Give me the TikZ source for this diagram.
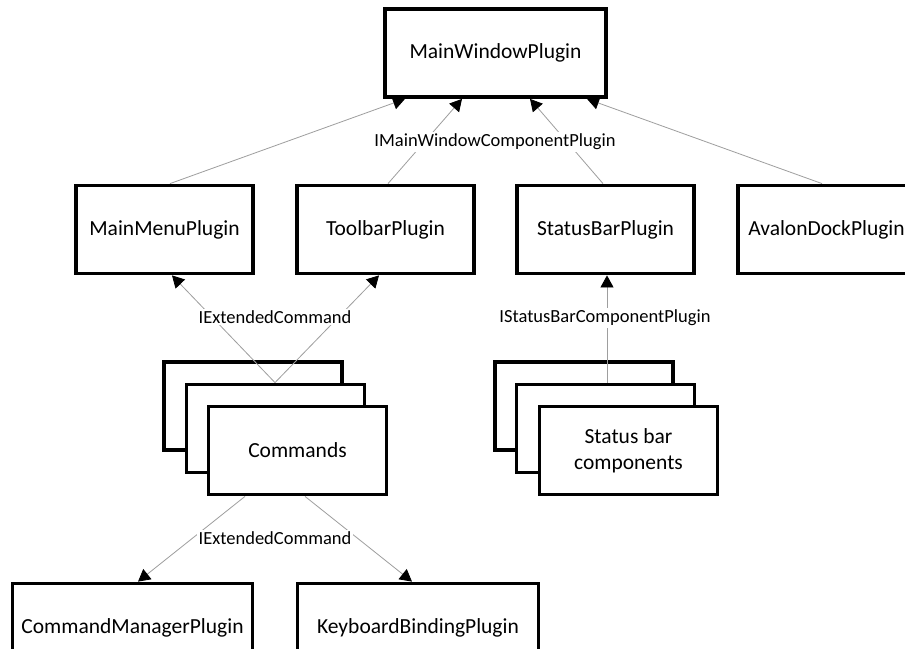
\documentclass[tikz,border=0pt]{standalone}
\usepackage{fontspec}
\setmainfont{Carlito}
\usetikzlibrary{arrows.meta}
\begin{document}
\begin{tikzpicture}[x=1bp,y=-1bp,
  plugin/.style={draw=black, line width=3.8bp, fill=white, inner sep=0pt,
    minimum width=177bp, minimum height=88bp,
    font=\fontsize{21.5bp}{26bp}\selectfont, align=center},
  card/.style={plugin, minimum width=178bp},
  wire/.style={draw=black!38, line width=0.8bp,
    -{Triangle[width=13bp,length=12bp,color=black]}},
  iface/.style={fill=white, inner sep=2bp, font=\fontsize{18.5bp}{22bp}\selectfont}]
\useasboundingbox (0,0) rectangle (905,649);
\clip (0,0) rectangle (905,649);
\fill[white] (0,0) rectangle (905,649);

% host window and its components
\node[plugin, minimum width=221bp, minimum height=88bp] (mw) at (495.5,53) {MainWindowPlugin};
\node[plugin] (mm) at (164.5,229.5) {MainMenuPlugin};
\node[plugin] (tb) at (385.5,229.5) {ToolbarPlugin};
\node[plugin] (sb) at (605.5,229.5) {StatusBarPlugin};
\node[plugin] (ad) at (826.5,229.5) {AvalonDockPlugin};

% stacked command cards
\node[card] (cmdA) at (253,406) {};
\node[card] (cmdB) at (275.5,428.5) {};
\node[card] (cmdC) at (297.5,450.5) {Commands};

% stacked status bar component cards
\node[card] (sbcA) at (584,406) {};
\node[card] (sbcB) at (605.5,428.5) {};
\node[card] (sbcC) at (628.5,450.5) {Status bar\\components};

% command consumers
\node[plugin, minimum width=240bp] (cm) at (132.5,627.5) {CommandManagerPlugin};
\node[plugin, minimum width=241bp] (kb) at (418,627.5) {KeyboardBindingPlugin};

% IMainWindowComponentPlugin
\draw[wire] ([xshift=5.5bp]mm.north) -- ([xshift=-90.5bp]mw.south);
\draw[wire] ([xshift=2.5bp]tb.north) -- ([xshift=-33.5bp]mw.south);
\draw[wire] ([xshift=-2.5bp]sb.north) -- ([xshift=34.5bp]mw.south);
\draw[wire] ([xshift=-4.5bp]ad.north) -- ([xshift=91.5bp]mw.south);
\node[iface] (lblmw) at (495,142) {IMainWindowComponentPlugin};

% IExtendedCommand towards menu and toolbar
\coordinate (cmdtop) at ([xshift=-0.5bp]cmdB.north);
\draw[wire] (cmdtop) -- ([xshift=7.5bp]mm.south);
\draw[wire] (cmdtop) -- ([xshift=-6.5bp]tb.south);
\node[iface] (lblcmd) at (275,317) {IExtendedCommand};

% IStatusBarComponentPlugin
\draw[wire] ([xshift=1.5bp]sbcB.north) -- ([xshift=1.5bp]sb.south);
\node[iface] (lblsb) at (605,318) {IStatusBarComponentPlugin};

% IExtendedCommand towards command manager and key bindings
\draw[wire] ([xshift=-52.5bp]cmdC.south) -- ([xshift=5.5bp]cm.north);
\draw[wire] ([xshift=7.5bp]cmdC.south) -- ([xshift=-6bp]kb.north);
\node[iface] (lblkb) at (275,538) {IExtendedCommand};
\end{tikzpicture}
\end{document}
